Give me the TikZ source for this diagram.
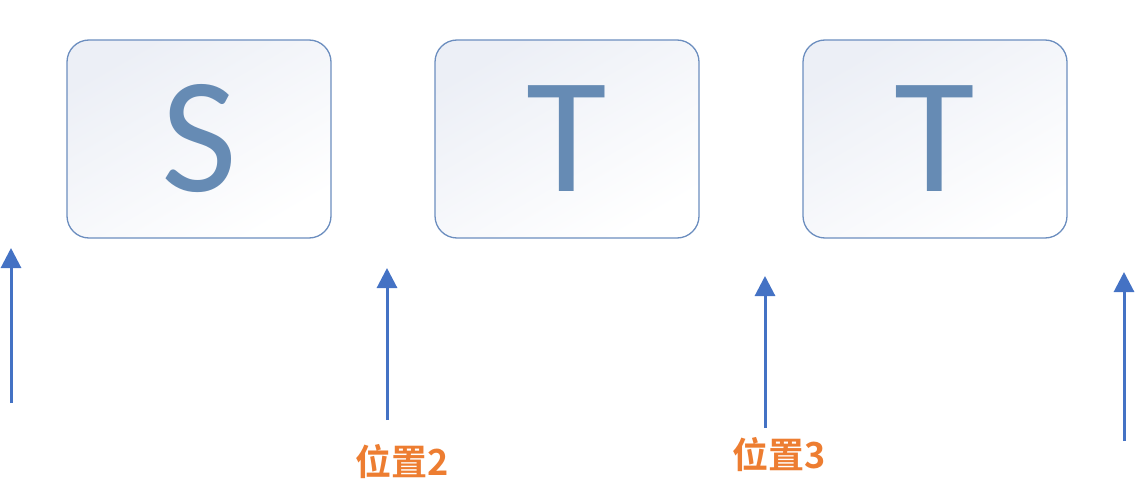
\documentclass[tikz,border=0pt]{standalone}
\usepackage{fontspec}
\setmainfont{Carlito}
\newfontfamily\cjkbold{Noto Sans CJK SC Bold}
\usetikzlibrary{arrows.meta}
\definecolor{boxline}{HTML}{6C8EBF}
\definecolor{boxtext}{HTML}{668BB4}
\definecolor{boxfill}{HTML}{ECEFF6}
\definecolor{arrowblue}{HTML}{4472C4}
\definecolor{lblorange}{HTML}{ED7D31}
\tikzset{
  letterbox/.style={draw=boxline, line width=1.3pt, rounded corners=22pt,
    minimum width=264pt, minimum height=198pt, inner sep=0pt,
    left color=boxfill, right color=white, shading angle=30,
    text=boxtext, font=\fontsize{165}{165}\selectfont},
  posarrow/.style={draw=arrowblue, line width=3pt,
    -{Triangle[length=20pt,width=20pt]}},
  poslabel/.style={text=lblorange, font=\cjkbold\fontsize{36}{36}\selectfont, inner sep=0pt}
}
\begin{document}
\begin{tikzpicture}[x=1pt,y=-1pt]
\useasboundingbox (0,0) rectangle (1136,500);
\node[letterbox] (s) at (199,139) {S};
\node[letterbox] (t1) at (567,139) {T};
\node[letterbox] (t2) at (935,139) {T};
\coordinate (a1s) at (11,403); \coordinate (a1e) at (11,248);
\coordinate (a2s) at (387,420); \coordinate (a2e) at (387,268);
\coordinate (a3s) at (765,428); \coordinate (a3e) at (765,276);
\coordinate (a4s) at (1124,441); \coordinate (a4e) at (1124,272);
\draw[posarrow] (a1s) -- (a1e);
\draw[posarrow] (a2s) -- (a2e);
\draw[posarrow] (a3s) -- (a3e);
\draw[posarrow] (a4s) -- (a4e);
\node[poslabel] (l2) at (402,462) {位置2};
\node[poslabel] (l3) at (779,455) {位置3};
\end{tikzpicture}
\end{document}
